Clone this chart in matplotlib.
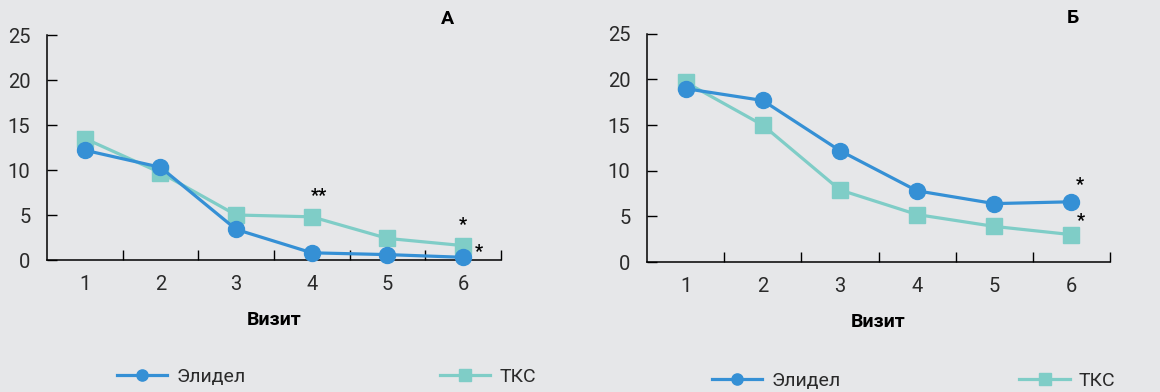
import matplotlib
matplotlib.use('Agg')
import matplotlib.pyplot as plt
import numpy as np

# visits and values for both panels
visits = [1, 2, 3, 4, 5, 6]
elidel_a = [12.2, 10.3, 3.4, 0.8, 0.6, 0.3]
tks_a = [13.5, 9.7, 5.0, 4.8, 2.4, 1.6]
elidel_b = [19.0, 17.7, 12.2, 7.8, 6.4, 6.6]
tks_b = [19.7, 15.0, 7.9, 5.2, 3.9, 3.0]

BG = '#e6e7e9'
BLUE = '#3590d5'
TEAL = '#7fcdc7'

plt.rcParams['font.family'] = ['Roboto', 'DejaVu Sans']

fig = plt.figure(figsize=(11.6, 3.92), dpi=100, facecolor=BG)
ax_a = fig.add_axes([0.0405, 0.3367, 0.3914, 0.574])
ax_b = fig.add_axes([0.5578, 0.3316, 0.3991, 0.582])


def draw_panel(ax, elidel, tks, letter, letter_x, stars, leg_x, colsp):
    ax.set_facecolor(BG)
    ax.plot(visits, elidel, color=BLUE, lw=2.3, marker='o', ms=11.5,
            label='Элидел', clip_on=False, zorder=3)
    ax.plot(visits, tks, color=TEAL, lw=2.3, marker='s', ms=12,
            label='ТКС', clip_on=False, zorder=2)
    ax.set_xlim(0.5, 6.5)
    ax.set_ylim(0, 25)
    ax.spines['top'].set_visible(False)
    ax.spines['right'].set_visible(False)
    ax.spines['left'].set_linewidth(1.1)
    ax.spines['bottom'].set_linewidth(1.1)
    ax.set_xticks(visits)
    ax.set_xticks(np.arange(1.5, 7, 1), minor=True)
    ax.tick_params(axis='x', which='major', length=0, pad=11, labelsize=14.5, labelcolor='#2a2a2a')
    ax.tick_params(axis='x', which='minor', direction='in', length=7, width=1)
    ax.set_yticks([0, 5, 10, 15, 20, 25])
    ax.tick_params(axis='y', direction='in', length=7, width=1, pad=12, labelsize=14.5, labelcolor='#2a2a2a')
    ax.set_xlabel('Визит', fontsize=14, fontweight='bold', labelpad=12)
    ax.text(letter_x, 1.03, letter, transform=ax.transAxes, fontsize=14,
            fontweight='bold', ha='center', va='bottom')
    for x, y, s, dx, dy in stars:
        ax.annotate(s, (x, y), xytext=(dx, dy), textcoords='offset points',
                    ha='center', va='center', fontsize=13, fontweight='bold')
    leg = ax.legend(loc='center left', bbox_to_anchor=(leg_x, -0.52), ncol=2, frameon=False,
                    markerscale=0.7, handlelength=2.6, handletextpad=0.45,
                    columnspacing=colsp, borderpad=0, borderaxespad=0,
                    prop={'size': 14})
    for t in leg.get_texts():
        t.set_color('#2a2a2a')


draw_panel(ax_a, elidel_a, tks_a, 'А', 0.883,
           [(4, tks_a[3], '**', 5, 15), (6, tks_a[5], '*', 0, 15), (6, elidel_a[5], '*', 11, 4)],
           0.154, 10.0)
draw_panel(ax_b, elidel_b, tks_b, 'Б', 0.92,
           [(6, elidel_b[5], '*', 6, 12), (6, tks_b[5], '*', 7, 10)],
           0.14, 9.2)

fig.savefig('out.png', dpi=100, facecolor=BG)
